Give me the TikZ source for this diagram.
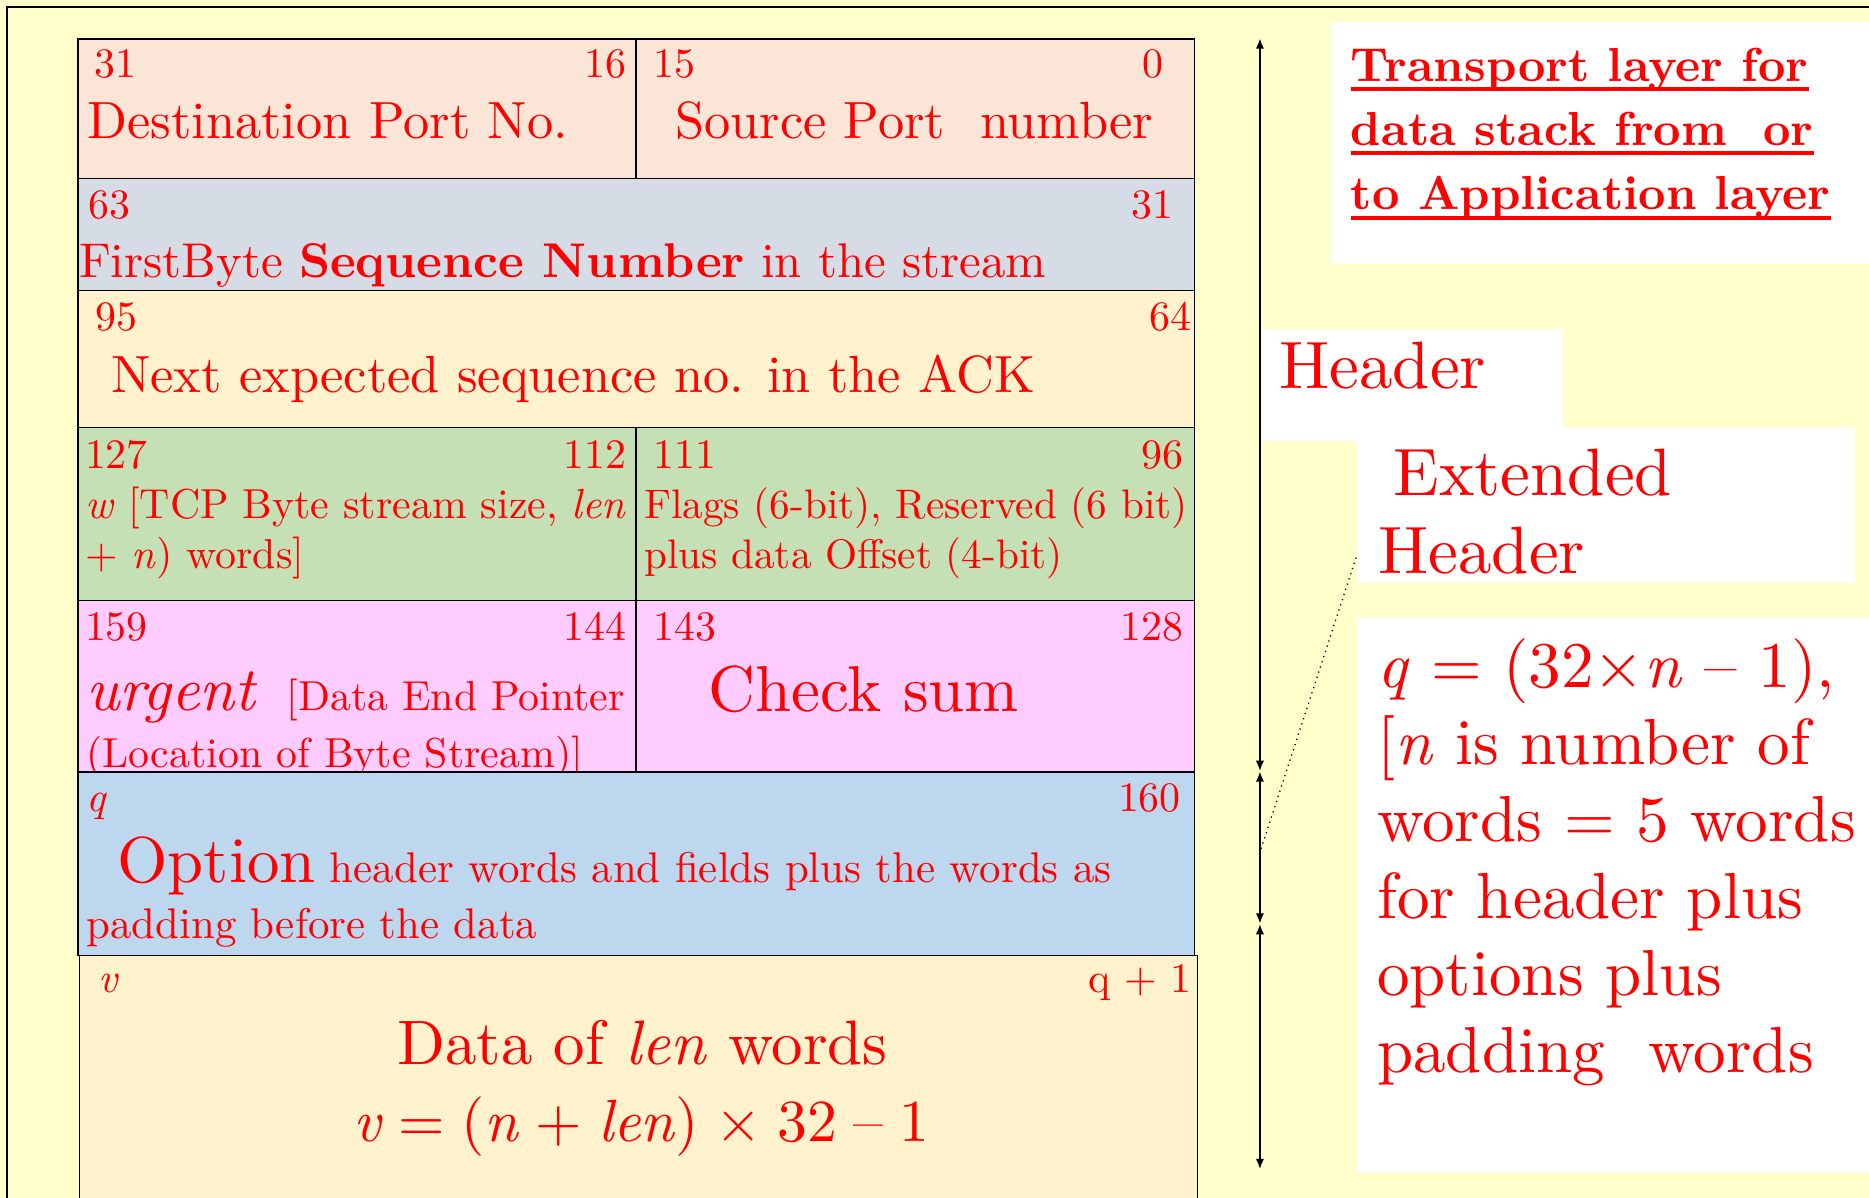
\documentclass[tikz,border=0pt]{standalone}
\usepackage{amsmath}
\usepackage{fontspec}
\setmainfont{lmroman10-regular.otf}[BoldFont=lmroman10-bold.otf, ItalicFont=lmroman10-italic.otf, BoldItalicFont=lmroman10-bolditalic.otf]
\usepackage{tikz}
\usepackage{xcolor}
\usetikzlibrary{arrows.meta}

\definecolor{slide-bg}{HTML}{FFFFCC}
\definecolor{port-fill}{HTML}{FBE5D6}
\definecolor{seq-fill}{HTML}{D6DCE5}
\definecolor{ack-fill}{HTML}{FFF2CC}
\definecolor{win-fill}{HTML}{C5E0B4}
\definecolor{urg-fill}{HTML}{FFCCFF}
\definecolor{opt-fill}{HTML}{BDD7EE}
\definecolor{data-fill}{HTML}{FFF2CC}

\tikzset{
    field-box/.style = {draw=black, line width=0.8pt, rectangle, inner sep=0pt, anchor=north west},
    note-box/.style = {fill=white, rectangle, inner sep=0pt, anchor=north west},
    bit-no/.style = {text=red, inner sep=0pt, font=\fontsize{20pt}{24pt}\selectfont},
    field-text/.style = {text=red, inner sep=0pt, anchor=base west, font=\fontsize{25pt}{30pt}\selectfont},
    field-small/.style = {field-text, font=\fontsize{20pt}{23.9pt}\selectfont},
    field-large/.style = {field-text, font=\fontsize{31pt}{36pt}\selectfont},
    note-text/.style = {text=red, inner sep=0pt, anchor=base west, font=\fontsize{32pt}{37pt}\selectfont},
    title-text/.style = {text=red, inner sep=0pt, anchor=base west, font=\fontsize{22.8pt}{30.7pt}\selectfont\bfseries},
    title-rule/.style = {red, line width=2pt},
    span-arrow/.style = {{Latex[length=5pt,width=4pt]}-{Latex[length=5pt,width=4pt]}, line width=1pt},
}

\begin{document}
\begin{tikzpicture}[x=0.02cm, y=-0.02cm]
\useasboundingbox (0,0) rectangle (1568,1005);
\clip (0,0) rectangle (1568,1005);
\fill[slide-bg] (0,0) rectangle (1568,1005);
\draw[line width=1pt] (5.6,1020) |- (1580,5.6);

% notes on the right
\node[note-box, minimum width=9.3cm, minimum height=4.06cm] (title-note) at (1116,18) {};
\node[note-box, minimum width=5.06cm, minimum height=1.88cm] (header-note) at (1058,276) {};
\node[note-box, minimum width=8.36cm, minimum height=2.62cm] (ext-note) at (1138,358) {};
\node[note-box, minimum width=8.9cm, minimum height=9.34cm] (q-note) at (1138,517) {};

\node[title-text] (title-a) at (1133,68) {Transport layer for};
\node[title-text] (title-b) at (1133,122) {data stack from\ \ or};
\node[title-text] (title-c) at (1133,176) {to Application layer};
\foreach \lbl in {title-a,title-b,title-c}
    \draw[title-rule] ([yshift=-3.8pt]\lbl.base west) -- ([yshift=-3.8pt]\lbl.base east);

\node[note-text] (header-lbl) at (1073,326) {Header};
\node[note-text] (ext-lbl-a) at (1169,416) {Extended};
\node[note-text] (ext-lbl-b) at (1156,481) {Header};
\node[note-text, font=\fontsize{31.1pt}{36.7pt}\selectfont] (q-lbl) at (1155,577) {\begin{minipage}[t]{8.6cm}\raggedright
    \textit{q} = (32×\textit{n} -- 1),\\
    {[}\textit{n} is number of\\
    words = 5 words\\
    for header plus\\
    options plus\\
    padding\ \ words
\end{minipage}};

% ports
\node[field-box, fill=port-fill, minimum width=9.37cm, minimum height=2.34cm] (dst-port) at (64.5,32) {};
\node[field-box, fill=port-fill, minimum width=9.37cm, minimum height=2.34cm] (src-port) at (533,32) {};
\node[bit-no, anchor=base west] (b31) at (79,65) {31};
\node[bit-no, anchor=base east] (b16) at (526,65) {16};
\node[bit-no, anchor=base west] (b15) at (548,65) {15};
\node[bit-no, anchor=base east] (b0) at (976,65) {0};
\node[field-text] (dst-lbl) at (73,116) {Destination Port No.};
\node[field-text] (src-lbl) at (566,116) {Source Port\ \ number};

% sequence number
\node[field-box, fill=seq-fill, minimum width=18.74cm, minimum height=1.88cm] (seq-no) at (64.5,149) {};
\node[bit-no, anchor=base west] (b63) at (74,183) {63};
\node[bit-no, anchor=base east] (b31r) at (985,183) {31};
\node[field-text, font=\fontsize{23.3pt}{28pt}\selectfont] (seq-lbl) at (66,233) {FirstByte \textbf{Sequence Number} in the stream};

% acknowledgement
\node[field-box, fill=ack-fill, minimum width=18.74cm, minimum height=2.30cm] (ack-no) at (64.5,243) {};
\node[bit-no, anchor=base west] (b95) at (80,277) {95};
\node[bit-no, anchor=base east] (b64) at (1000,277) {64};
\node[field-text] (ack-lbl) at (93,329) {Next expected sequence no. in the ACK};

% window and flags
\node[field-box, fill=win-fill, minimum width=9.37cm, minimum height=2.90cm] (window) at (64.5,358) {};
\node[field-box, fill=win-fill, minimum width=9.37cm, minimum height=2.90cm] (flags) at (533,358) {};
\node[bit-no, anchor=base west] (b127) at (71,393) {127};
\node[bit-no, anchor=base east] (b112) at (526,393) {112};
\node[bit-no, anchor=base west] (b111) at (548,393) {111};
\node[bit-no, anchor=base east] (b96) at (993,393) {96};
\node[field-small] (win-lbl) at (71,435) {\begin{minipage}[t]{10cm}\raggedright
    \textit{w} [TCP Byte stream size, \textit{len}\\
    + \textit{n}) words]
\end{minipage}};
\node[field-small, font=\fontsize{19.7pt}{23.9pt}\selectfont] (flag-lbl) at (540,435) {\begin{minipage}[t]{10cm}\raggedright
    Flags (6-bit), Reserved (6 bit)\\
    plus data Offset (4-bit)
\end{minipage}};

% urgent pointer and check sum
\node[field-box, fill=urg-fill, minimum width=9.37cm, minimum height=2.88cm] (urgent) at (64.5,503) {};
\node[field-box, fill=urg-fill, minimum width=9.37cm, minimum height=2.88cm] (checksum) at (533,503) {};
\node[bit-no, anchor=base west] (b159) at (71,537) {159};
\node[bit-no, anchor=base east] (b144) at (526,537) {144};
\node[bit-no, anchor=base west] (b143) at (548,537) {143};
\node[bit-no, anchor=base east] (b128) at (993,537) {128};
\node[field-text, font=\fontsize{29.6pt}{35pt}\selectfont\itshape] (urg-lbl) at (72,596) {urgent};
\node[field-small] (urg-ptr) at (240,596) {[Data End Pointer};
\node[field-small] (urg-loc) at (72,644) {(Location of Byte Stream)]};
\node[field-large] (chk-lbl) at (594,597) {Check sum};

% options
\node[field-box, fill=opt-fill, minimum width=18.74cm, minimum height=3.08cm] (options) at (64.5,647) {};
\node[bit-no, anchor=base west] (bq) at (72,681) {\textit{q}};
\node[bit-no, anchor=base east] (b160) at (991,681) {160};
\node[field-large] (opt-lbl) at (98,740) {Option{\fontsize{20.5pt}{24pt}\selectfont{} header words and fields plus the words as}};
\node[field-text, font=\fontsize{20.5pt}{24pt}\selectfont] (opt-pad) at (72,787) {padding before the data};

% data
\node[field-box, fill=data-fill, minimum width=18.76cm, minimum height=5cm] (data) at (66,801) {};
\node[bit-no, anchor=base west] (bv) at (82,833) {\textit{v}};
\node[bit-no, anchor=base east] (bq1) at (1000,833) {q + 1};
\node[field-text, anchor=base, font=\fontsize{30pt}{36pt}\selectfont] (data-lbl) at (539,893) {Data of \textit{len} words};
\node[field-text, anchor=base, font=\fontsize{28.5pt}{34pt}\selectfont] (data-len) at (538,958) {\spaceskip=.27em \textit{v} = (\textit{n} + \textit{len}) × 32 -- 1};

% spans
\coordinate (hdr-top) at (1057,32);
\coordinate (hdr-end) at (1057,647);
\coordinate (opt-end) at (1057,775);
\coordinate (dat-end) at (1057,981);
\coordinate (opt-mid) at (1058,712);
\draw[span-arrow] (hdr-top) -- (hdr-end);
\draw[span-arrow] (hdr-end) -- (opt-end);
\draw[span-arrow] (opt-end) -- (dat-end);
\draw[dotted, line width=0.6pt] (opt-mid) -- ([yshift=0.46cm]ext-note.south west);
\end{tikzpicture}
\end{document}
